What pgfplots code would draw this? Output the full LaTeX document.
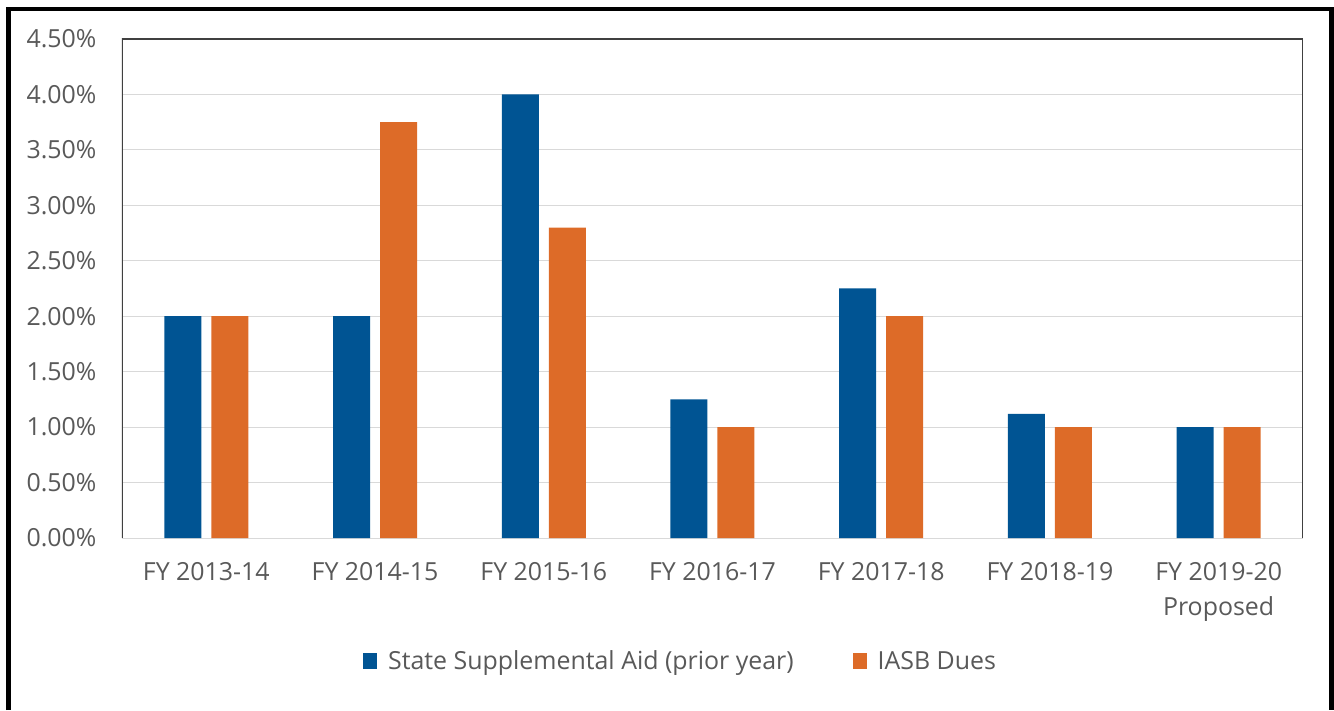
\documentclass[border=0pt]{standalone}
\usepackage{pgfplots}
\pgfplotsset{compat=1.18}
\usepackage{fontspec}
\setmainfont{Open Sans}
\definecolor{sblue}{RGB}{0,84,147}
\definecolor{sorange}{RGB}{221,107,40}
\definecolor{txt}{RGB}{89,89,89}
\definecolor{gridc}{RGB}{217,217,217}
\definecolor{framec}{RGB}{64,64,64}
\begin{document}
\begin{tikzpicture}[x=1bp,y=1bp]
\begin{axis}[
  width=1181bp, height=499bp, scale only axis,
  ymin=0, ymax=4.5, xmin=-0.5, xmax=6.5,
  ytick={0,0.5,1,1.5,2,2.5,3,3.5,4,4.5},
  /pgf/number format/assume math mode=true,
  yticklabel={\pgfmathprintnumber[fixed,fixed zerofill,precision=2]{\tick}\%},
  xtick={0,1,2,3,4,5,6},
  xticklabels={FY 2013-14,FY 2014-15,FY 2015-16,FY 2016-17,FY 2017-18,FY 2018-19,{FY 2019-20\\Proposed}},
  xticklabel style={align=center, text=txt, font=\fontsize{25}{35}\selectfont, yshift=-21bp},
  yticklabel style={text=txt, font=\fontsize{25}{30}\selectfont, xshift=-22bp},
  major tick length=0,
  ymajorgrids, grid style={gridc, line width=1bp},
  axis line style={draw=none},
  ybar=10bp, bar width=37bp,
  legend columns=2,
  legend style={at={(0.204,-0.2465)}, anchor=west, draw=none, inner sep=0pt,
    font=\fontsize{25}{30}\selectfont, text=txt,
    /tikz/every odd column/.append style={column sep=9bp},
    /tikz/every even column/.append style={column sep=57bp}},
  legend image code/.code={\fill[#1] (0bp,-8bp) rectangle (14bp,8bp);},
]
\addplot[fill=sblue, draw=none] coordinates {(0,2.00) (1,2.00) (2,4.00) (3,1.25) (4,2.25) (5,1.12) (6,1.00)};
\addplot[fill=sorange, draw=none] coordinates {(0,2.00) (1,3.75) (2,2.80) (3,1.00) (4,2.00) (5,1.00) (6,1.00)};
\legend{State Supplemental Aid (prior year), IASB Dues}
\draw[framec, line width=1.5bp] (rel axis cs:0,0) -- (rel axis cs:0,1) -- (rel axis cs:1,1) -- (rel axis cs:1,0);
\coordinate (O) at (rel axis cs:0,0);
\end{axis}
\pgfresetboundingbox
\path[use as bounding box] ([shift={(-122,-172)}]O) rectangle ([shift={(1212,538)}]O);
\draw[black, line width=4.5bp, line join=miter] ([shift={(-113.7,-172)}]O) -- ([shift={(-113.7,529.2)}]O) -- ([shift={(1209.5,529.2)}]O) -- ([shift={(1209.5,-172)}]O);
\end{tikzpicture}
\end{document}
